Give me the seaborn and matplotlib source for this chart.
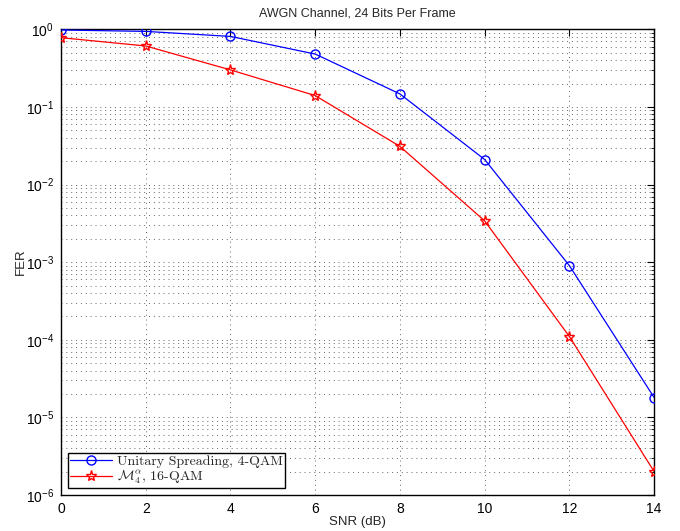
import numpy as np
import pandas as pd
import matplotlib
matplotlib.use("Agg")
import matplotlib.pyplot as plt
import seaborn as sns
from matplotlib.ticker import LogLocator, NullFormatter

snr_db = [0, 2, 4, 6, 8, 10, 12, 14]
fer_unitary = [0.98, 0.94, 0.81, 0.48, 0.147, 0.021, 9.0e-4, 1.8e-5]
fer_m4 = [0.78, 0.61, 0.30, 0.14, 0.031, 0.0034, 1.1e-4, 2.0e-6]
series_labels = ["Unitary Spreading, 4-QAM", r"$\mathcal{M}_4^{\alpha}$, 16-QAM"]
x_ticks = [0, 2, 4, 6, 8, 10, 12, 14]

sns.set_style("white")
plt.rcParams["font.family"] = ["Liberation Sans", "DejaVu Sans"]
plt.rcParams["mathtext.fontset"] = "cm"
plt.rcParams["axes.unicode_minus"] = False

df = pd.DataFrame({
    "SNR": snr_db * 2,
    "FER": fer_unitary + fer_m4,
    "series": [series_labels[0]] * len(snr_db) + [series_labels[1]] * len(snr_db),
})

fig = plt.figure(figsize=(6.8, 5.31), dpi=100)
ax = fig.add_axes([0.0897, 0.0678, 0.8723, 0.877])

styles = [("#0000ff", "o", 6.5), ("#ff0000", "*", 8)]
for label, (color, marker, ms) in zip(series_labels, styles):
    sub = df[df["series"] == label]
    sns.lineplot(data=sub, x="SNR", y="FER", ax=ax, color=color, marker=marker,
                 markersize=ms, markerfacecolor="none", markeredgecolor=color,
                 markeredgewidth=1.0, linewidth=0.9, label=label, zorder=3)

ax.set_yscale("log")
ax.set_xlim(0, 14)
ax.set_ylim(1e-6, 1)
ax.set_xticks(x_ticks)
ax.yaxis.set_major_locator(LogLocator(base=10, numticks=10))
ax.yaxis.set_minor_locator(LogLocator(base=10, subs=np.arange(2, 10), numticks=10))
ax.yaxis.set_minor_formatter(NullFormatter())
ax.xaxis.offsetText.set_visible(False)
ax.yaxis.offsetText.set_visible(False)

grid_kw = dict(linestyle=(0, (1, 4)), color="#666666", linewidth=0.7)
ax.grid(True, which="major", axis="both", **grid_kw)
ax.grid(True, which="minor", axis="y", **grid_kw)

ax.tick_params(which="both", direction="in", top=True, right=True, labelsize=10,
               colors="black", pad=5)
ax.tick_params(which="major", length=5, width=0.8)
ax.tick_params(which="minor", length=2.5, width=0.6)
ax.tick_params(axis="x", which="minor", bottom=False, top=False)
for sp in ax.spines.values():
    sp.set_color("black")
    sp.set_linewidth(1.0)

ax.set_title("AWGN Channel, 24 Bits Per Frame", fontsize=9, pad=9)
ax.set_xlabel("SNR (dB)", fontsize=9.5)
ax.set_ylabel("FER", fontsize=9.5)
ax.xaxis.set_label_coords(0.5, -0.046)
ax.yaxis.set_label_coords(-0.058, 0.5)

leg = ax.legend(loc="lower left", prop={"family": "cmr10", "size": 10},
                frameon=True, fancybox=False, edgecolor="black",
                borderaxespad=0.5, handlelength=3.0, borderpad=0.15,
                labelspacing=0.05, handletextpad=0.4, framealpha=1)
leg.get_frame().set_linewidth(1.0)

fig.savefig("out.png", dpi=100)
